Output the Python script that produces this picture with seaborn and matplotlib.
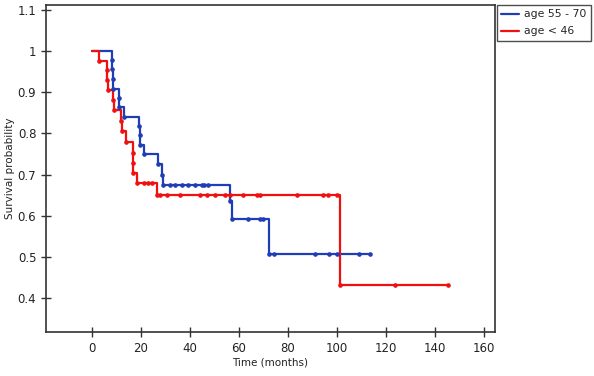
import numpy as np
import pandas as pd
import seaborn as sns
import matplotlib
matplotlib.use("Agg")
import matplotlib.pyplot as plt
from matplotlib.ticker import FormatStrFormatter

# step points (time in months, survival after the step)
blueTimes = [0, 8.2, 8.4, 8.6, 8.8, 11.0, 11.2, 13.1, 19.4, 19.6, 19.8, 21.1,
             27.2, 28.6, 29.0, 56.2, 57.0, 72.1, 113.3]
blueSurv = [1.0, 0.979, 0.957, 0.933, 0.909, 0.886, 0.864, 0.840, 0.817, 0.795,
            0.773, 0.750, 0.726, 0.700, 0.675, 0.637, 0.592, 0.508, 0.508]
blueCensT = [32, 34, 36.7, 39.4, 42.2, 44.9, 45.8, 47.6, 63.9, 68.7, 70,
             74.4, 91.1, 96.6, 100, 108.8, 113.3]
blueCensS = [0.675] * 8 + [0.592] * 3 + [0.508] * 6

redTimes = [0, 3.0, 6.1, 6.3, 6.5, 8.8, 9.0, 12.1, 12.3, 14.0, 16.6, 16.8,
            17.0, 18.6, 26.5, 101.3, 145.3]
redSurv = [1.0, 0.977, 0.953, 0.930, 0.905, 0.881, 0.857, 0.831, 0.807, 0.779,
           0.753, 0.728, 0.704, 0.680, 0.651, 0.432, 0.432]
redCensT = [21.3, 22.9, 24.6, 27.9, 30.6, 36.1, 44.2, 47, 50.3, 54.4, 56.5,
            61.5, 67.3, 68.7, 83.7, 94.5, 96.3, 100, 123.5, 145.3]
redCensS = [0.680] * 3 + [0.651] * 15 + [0.432] * 2

groupNames = ["age 55 - 70", "age < 46"]
xTicks = [0, 20, 40, 60, 80, 100, 120, 140, 160]
yTicks = [0.4, 0.5, 0.6, 0.7, 0.8, 0.9, 1.0, 1.1]

blueColor = "#1f3db5"
redColor = "#f01010"

sns.set_style("white")
plt.rcParams["font.family"] = ["DejaVu Sans"]

fig = plt.figure(figsize=(5.94, 3.76), dpi=100)
ax = fig.add_axes([0.0774, 0.117, 0.756, 0.87])

curves = [
    (blueTimes, blueSurv, blueCensT, blueCensS, blueColor, groupNames[0]),
    (redTimes, redSurv, redCensT, redCensS, redColor, groupNames[1]),
]

for times, surv, censT, censS, color, name in curves:
    stepDf = pd.DataFrame({"time": times, "surv": surv})
    sns.lineplot(data=stepDf, x="time", y="surv", ax=ax, color=color,
                 drawstyle="steps-post", linewidth=1.6, estimator=None,
                 label=name)
    # dots at the event corners and the censored points
    ax.plot(times[1:-1], surv[1:-1], "o", color=color, markersize=2.3, zorder=3)
    ax.plot(censT, censS, "o", color=color, markersize=2.3, zorder=3)

ax.set_xlim(-18.7, 164.5)
ax.set_ylim(0.318, 1.112)
ax.set_xticks(xTicks)
ax.set_yticks(yTicks)
ax.yaxis.set_major_formatter(FormatStrFormatter("%g"))
ax.tick_params(bottom=True, left=True, direction="inout", length=7, width=1,
               color="#333333", labelsize=8.5, labelcolor="#222222")
for sp in ax.spines.values():
    sp.set_color("#333333")
    sp.set_linewidth(1.2)

ax.set_xlabel("Time (months)", fontsize=7.5, color="#222222", labelpad=2)
ax.set_ylabel("Survival probability", fontsize=7.5, color="#222222", labelpad=2)

handles, labels = ax.get_legend_handles_labels()
ax.get_legend().remove()
leg = fig.legend(handles, labels, loc="upper left",
                 bbox_to_anchor=(0.836, 0.988), fontsize=7.8, frameon=True,
                 fancybox=False, handlelength=1.6, borderpad=0.45,
                 labelspacing=0.65, handletextpad=0.5, borderaxespad=0)
leg.get_frame().set_edgecolor("#222222")
leg.get_frame().set_linewidth(1.0)

fig.savefig("out.png", dpi=100)
